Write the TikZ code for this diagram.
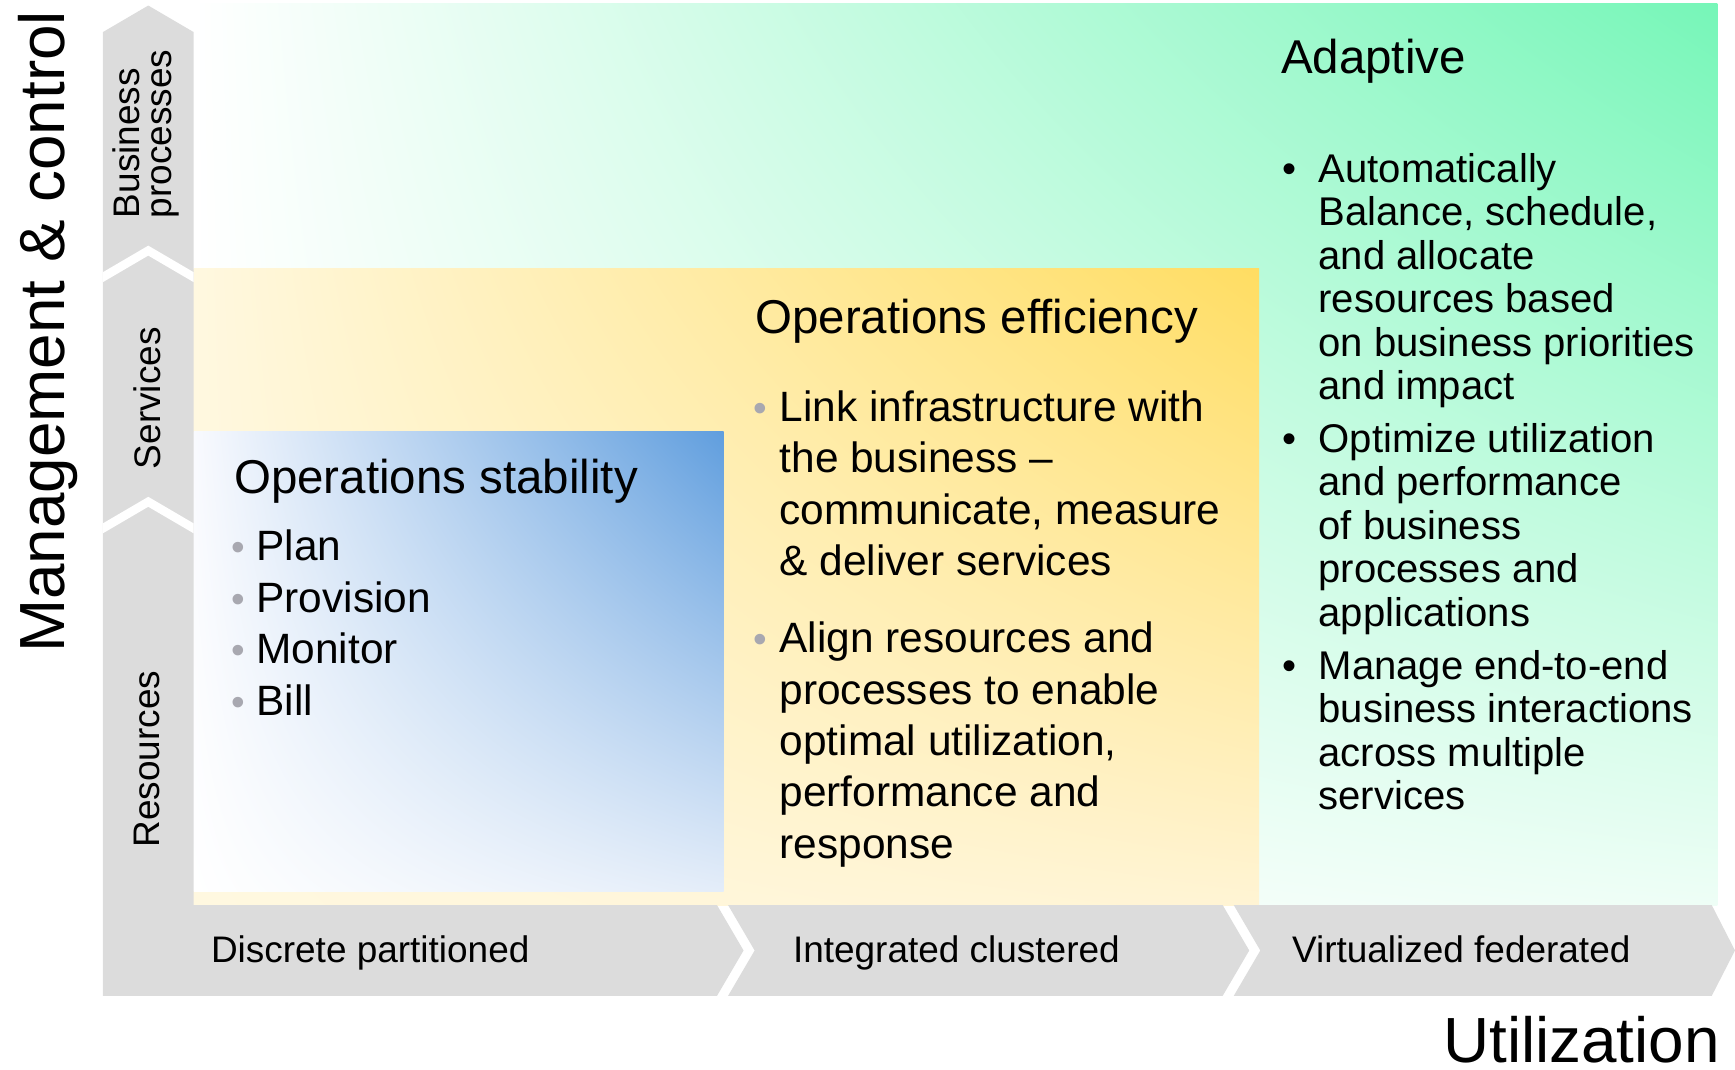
\documentclass[tikz,border=0pt]{standalone}
\usepackage{fontspec}
\setmainfont{Liberation Sans}
\usepackage{tikz}
\usetikzlibrary{positioning, shadings}

\definecolor{colgray}{RGB}{220,220,220}
\definecolor{dotgray}{RGB}{168,168,176}
\definecolor{mint}{RGB}{118,246,184}
\definecolor{mintpale}{RGB}{238,254,246}
\definecolor{gold}{RGB}{255,221,98}
\definecolor{cream}{RGB}{255,248,224}
\definecolor{creamlow}{RGB}{255,244,212}
\definecolor{skyblue}{RGB}{96,158,222}
\definecolor{iceblue}{RGB}{228,237,249}
\definecolor{snow}{RGB}{249,250,254}

\newcommand{\axisfont}{\fontsize{16.4}{19}\selectfont}
\newcommand{\ttlfont}{\fontsize{12.2}{14}\selectfont}
\newcommand{\itmfont}{\fontsize{10.9}{13.2}\selectfont}
\newcommand{\adpfont}{\fontsize{10.3}{11.15}\selectfont}
\newcommand{\lblfont}{\fontsize{9.5}{8.3}\selectfont}
\newcommand{\gdot}[1]{\makebox[#1][l]{\makebox[0pt][c]{{\color{dotgray}\fontsize{10}{10}\selectfont\textbullet}}}}
\newcommand{\bdot}{\makebox[7.4pt][l]{\makebox[0pt][c]{\textbullet}}}

\begin{document}
\begin{tikzpicture}[x=0.01cm, y=-0.01cm]
	\tikzstyle{bar} = [fill=colgray]
	\tikzstyle{txt} = [inner sep=0pt, anchor=base west]
	\tikzstyle{lbl} = [inner sep=0pt, rotate=90, font=\lblfont]

	\useasboundingbox (0,0) rectangle (1568,967);

	% levels
	\shade[upper left=white, upper right=mint, lower left=white, lower right=mintpale] (175,3) rectangle (1552,818);
	\shade[upper left=cream, upper right=gold, lower left=cream, lower right=creamlow] (175,243) rectangle (1138,818);
	\shade[upper left=snow, upper right=skyblue, lower left=white, lower right=iceblue] (175,390) rectangle (654,806);

	% axes
	\fill[bar] (93,29) -- (134,5) -- (175,29) -- (175,818) -- (648,818) -- (672,859) -- (648,900) -- (93,900) -- cycle;
	\fill[bar] (658,818) -- (1105,818) -- (1129,859) -- (1105,900) -- (658,900) -- (682,859) -- cycle;
	\fill[bar] (1115,818) -- (1547,818) -- (1568,859) -- (1547,900) -- (1115,900) -- (1139,859) -- cycle;
	\foreach \y in {222,449}
		\fill[white] (93,\y+24) -- (134,\y) -- (175,\y+24) -- (175,\y+33) -- (134,\y+9) -- (93,\y+33) -- cycle;

	\node[inner sep=0pt, rotate=90, anchor=base, font=\axisfont] (mgmt) at (58,300) {Management \& control};
	\node[inner sep=0pt, anchor=base east, font=\axisfont] (util) at (1555,960) {Utilization};

	\node[lbl, align=left] (busproc) at (132,121) {Business\\processes};
	\node[lbl] (serv) at (133,360) {Services};
	\node[lbl] (res) at (133,686) {Resources};

	\node[txt, font=\lblfont] (discrete) at (190,870) {Discrete partitioned};
	\node[txt, font=\lblfont] (integrated) at (716,870) {Integrated clustered};
	\node[txt, font=\lblfont] (virtual) at (1167,870) {Virtualized federated};

	\node[txt, font=\ttlfont] (stabtitle) at (211,446) {Operations stability};
	\node[txt, font=\itmfont] (stabitems) at (215,507) {\begin{tabular}[t]{@{}l@{}l@{}}
		\gdot{4.55pt} & Plan\\
		\gdot{4.55pt} & Provision\\
		\gdot{4.55pt} & Monitor\\
		\gdot{4.55pt} & Bill
	\end{tabular}};

	\node[txt, font=\ttlfont] (efftitle) at (682,301) {Operations efficiency};
	\node[txt, font=\itmfont] (effitems) at (686,381) {\begin{tabular}[t]{@{}l@{}l@{}}
		\gdot{5.1pt} & Link infrastructure with\\
		& the business \textendash\\
		& communicate, measure\\
		& \& deliver services\\[6.6pt]
		\gdot{5.1pt} & Align resources and\\
		& processes to enable\\
		& optimal utilization,\\
		& performance and\\
		& response
	\end{tabular}};

	\node[txt, font=\ttlfont] (adapttitle) at (1157,66) {Adaptive};
	\node[txt, font=\adpfont] (adaptitems) at (1165,165) {\begin{tabular}[t]{@{}l@{}l@{}}
		\bdot & Automatically\\
		& Balance, schedule,\\
		& and allocate\\
		& resources based\\
		& on business priorities\\
		& and impact\\[2.5pt]
		\bdot & Optimize utilization\\
		& and performance\\
		& of business\\
		& processes and\\
		& applications\\[2.5pt]
		\bdot & Manage end-to-end\\
		& business interactions\\
		& across multiple\\
		& services
	\end{tabular}};
\end{tikzpicture}
\end{document}
